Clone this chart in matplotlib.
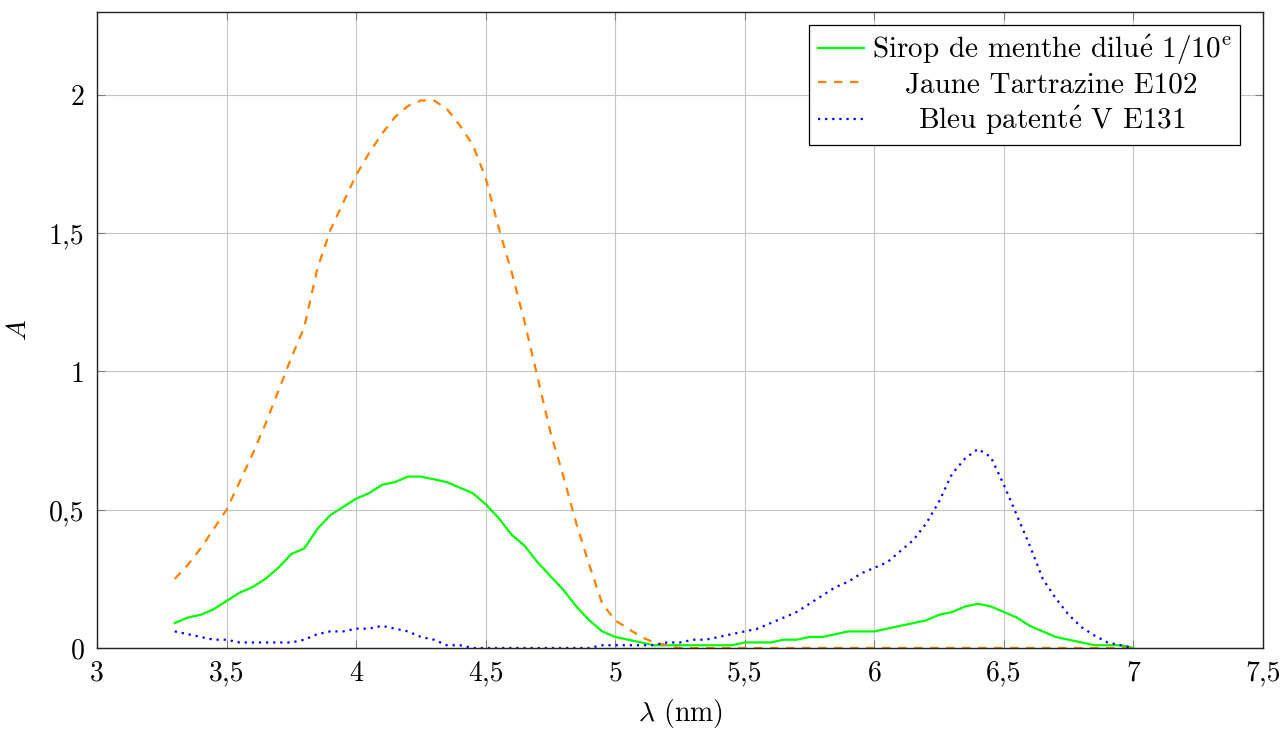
import matplotlib
matplotlib.use("Agg")
import matplotlib.pyplot as plt
import numpy as np

plt.rcParams['font.family'] = ['cmr10', 'DejaVu Serif']
plt.rcParams['mathtext.fontset'] = 'cm'
plt.rcParams['axes.unicode_minus'] = False

# ---- data ----
wl = [3.30, 3.35, 3.40, 3.45, 3.50, 3.55, 3.60, 3.65, 3.70, 3.75,
      3.80, 3.85, 3.90, 3.95, 4.00, 4.05, 4.10, 4.15, 4.20, 4.25,
      4.30, 4.35, 4.40, 4.45, 4.50, 4.55, 4.60, 4.65, 4.70, 4.75,
      4.80, 4.85, 4.90, 4.95, 5.00, 5.05, 5.10, 5.15, 5.20, 5.25,
      5.30, 5.35, 5.40, 5.45, 5.50, 5.55, 5.60, 5.65, 5.70, 5.75,
      5.80, 5.85, 5.90, 5.95, 6.00, 6.05, 6.10, 6.15, 6.20, 6.25,
      6.30, 6.35, 6.40, 6.45, 6.50, 6.55, 6.60, 6.65, 6.70, 6.75,
      6.80, 6.85, 6.90, 6.95, 7.00]

sirop = [0.09, 0.11, 0.12, 0.14, 0.17, 0.20, 0.22, 0.25, 0.29, 0.34,
         0.36, 0.43, 0.48, 0.51, 0.54, 0.56, 0.59, 0.60, 0.62, 0.62,
         0.61, 0.60, 0.58, 0.56, 0.52, 0.47, 0.41, 0.37, 0.31, 0.26,
         0.21, 0.15, 0.10, 0.06, 0.04, 0.03, 0.02, 0.01, 0.01, 0.01,
         0.01, 0.01, 0.01, 0.01, 0.02, 0.02, 0.02, 0.03, 0.03, 0.04,
         0.04, 0.05, 0.06, 0.06, 0.06, 0.07, 0.08, 0.09, 0.10, 0.12,
         0.13, 0.15, 0.16, 0.15, 0.13, 0.11, 0.08, 0.06, 0.04, 0.03,
         0.02, 0.01, 0.01, 0.01, 0.00]

jaune = [0.25, 0.30, 0.36, 0.43, 0.50, 0.60, 0.70, 0.81, 0.93, 1.05,
         1.16, 1.37, 1.51, 1.61, 1.71, 1.79, 1.86, 1.92, 1.96, 1.98,
         1.98, 1.95, 1.89, 1.82, 1.70, 1.52, 1.36, 1.18, 0.98, 0.78,
         0.62, 0.45, 0.30, 0.16, 0.10, 0.07, 0.04, 0.02, 0.01, 0.00,
         0.00, 0.00, 0.00, 0.00, 0.00, 0.00, 0.00, 0.00, 0.00, 0.00,
         0.00, 0.00, 0.00, 0.00, 0.00, 0.00, 0.00, 0.00, 0.00, 0.00,
         0.00, 0.00, 0.00, 0.00, 0.00, 0.00, 0.00, 0.00, 0.00, 0.00,
         0.00, 0.00, 0.00, 0.00, 0.00]

bleu = [0.06, 0.05, 0.04, 0.03, 0.03, 0.02, 0.02, 0.02, 0.02, 0.02,
        0.03, 0.05, 0.06, 0.06, 0.07, 0.07, 0.08, 0.07, 0.06, 0.04,
        0.03, 0.01, 0.01, 0.00, 0.00, 0.00, 0.00, 0.00, 0.00, 0.00,
        0.00, 0.00, 0.00, 0.01, 0.01, 0.01, 0.01, 0.01, 0.02, 0.02,
        0.03, 0.03, 0.04, 0.05, 0.06, 0.07, 0.09, 0.11, 0.13, 0.16,
        0.19, 0.22, 0.24, 0.27, 0.29, 0.31, 0.35, 0.39, 0.45, 0.53,
        0.63, 0.685, 0.72, 0.69, 0.59, 0.48, 0.37, 0.25, 0.18, 0.12,
        0.075, 0.045, 0.02, 0.01, 0.00]

labels = [r'Sirop de menthe dilu$\acute{\mathrm{e}}$ 1/10$^{\mathrm{e}}$',
          'Jaune Tartrazine E102',
          r'Bleu patent$\acute{\mathrm{e}}$ V E131']

xticks = [3, 3.5, 4, 4.5, 5, 5.5, 6, 6.5, 7, 7.5]
xticklabels = ['3', '3,5', '4', '4,5', '5', '5,5', '6', '6,5', '7', '7,5']
yticks = [0, 0.5, 1, 1.5, 2]
yticklabels = ['0', '0,5', '1', '1,5', '2']

# ---- figure ----
fig = plt.figure(figsize=(12.82, 7.29), dpi=100)
ax = fig.add_axes([97/1282, 1 - 648/729, (1263 - 97)/1282, (648 - 12)/729])

FS = 20
LFS = 21
lw = 1.6
l1, = ax.plot(wl, sirop, color='#00ff00', lw=lw, solid_joinstyle='round')
l2, = ax.plot(wl, jaune, color='#ff8000', lw=lw, dashes=(3.8, 3.4))
l3, = ax.plot(wl, bleu, color='#0000ff', lw=lw, dashes=(1.0, 2.2), dash_capstyle='butt')

ax.set_xlim(3, 7.5)
ax.set_ylim(0, 2.3)
ax.set_xticks(xticks)
ax.set_xticklabels(xticklabels)
ax.set_yticks(yticks)
ax.set_yticklabels(yticklabels)
ax.tick_params(direction='in', top=True, right=True, length=6, width=0.8,
               color='#808080', labelsize=FS, pad=9)
ax.grid(True, color='#c4c4c4', lw=0.8)
ax.set_axisbelow(True)
for s in ax.spines.values():
    s.set_color('#222222')
    s.set_linewidth(1.0)

ax.set_xlabel(r'$\lambda$ (nm)', fontsize=FS, labelpad=7)
ax.set_ylabel(r'$A$', fontsize=FS, labelpad=12)

leg = ax.legend([l1, l2, l3], labels, loc='upper right', bbox_to_anchor=(0.98, 0.98),
                borderaxespad=0, fontsize=LFS, frameon=True, fancybox=False,
                edgecolor='black', framealpha=1, handlelength=1.6,
                handletextpad=0.25, labelspacing=0.18, borderpad=0.28)
leg.get_frame().set_linewidth(0.9)

# center legend texts within their column (pgfplots style)
fig.canvas.draw()
r = fig.canvas.get_renderer()
texts = leg.get_texts()
exts = [t.get_window_extent(r) for t in texts]
left = min(e.x0 for e in exts)
right = max(e.x1 for e in exts)
cx = (left + right) / 2
for t, e in zip(texts, exts):
    shift = cx - (e.x0 + e.x1) / 2
    if abs(shift) > 0.5:
        x, y = t.get_position()
        t.set_position((x + shift, y))

fig.savefig('out.png', dpi=100)
